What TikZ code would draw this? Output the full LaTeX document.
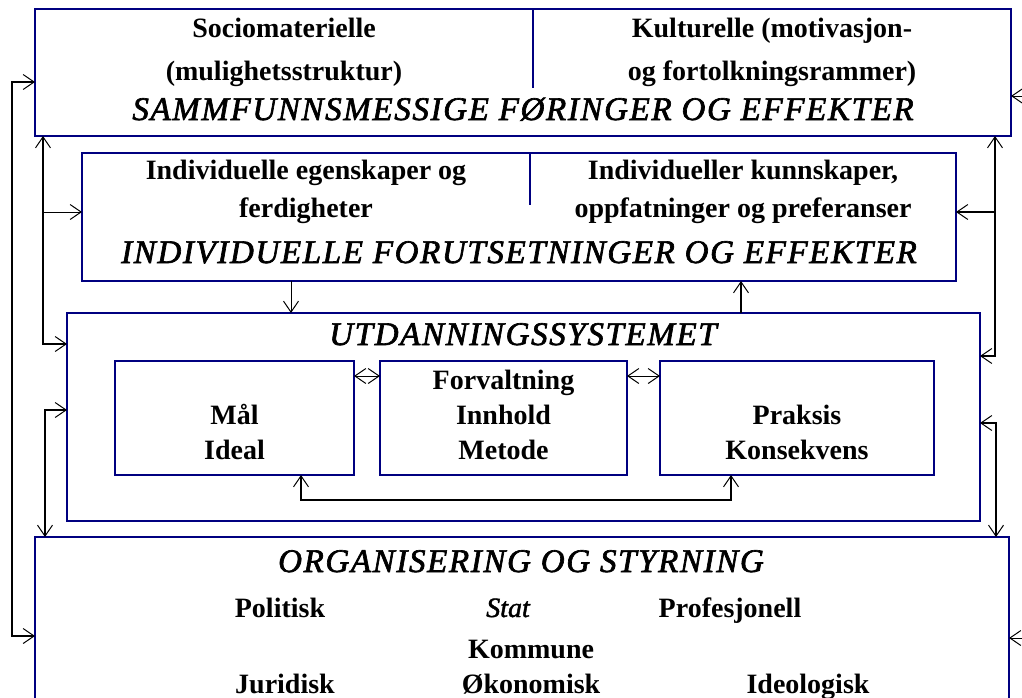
\documentclass[tikz,border=0pt]{standalone}
\usepackage{fontspec}
\setmainfont{Liberation Serif}
\newfontfamily\titlefont[LetterSpace=5,FakeBold=2]{Liberation Serif}
\newfontfamily\midfont[FakeBold=1.5]{Liberation Serif}
\usetikzlibrary{arrows.meta}
\definecolor{navy}{RGB}{0,0,128}
\tikzset{
	box/.style={draw=navy, line width=2pt, inner sep=0pt, outer sep=0pt},
	lbl/.style={font=\fontsize{28}{#1}\selectfont\bfseries, align=center, inner sep=0pt},
	lbl/.default=36,
	ttl/.style={font=\titlefont\fontsize{33}{40}\selectfont\itshape, inner sep=0pt, anchor=base},
	conn/.style={line width=1.6pt, >={Straight Barb[length=11pt,width=15pt,line width=1pt]}},
	thinconn/.style={conn, line width=1pt},
}

\begin{document}
\begin{tikzpicture}[x=1pt,y=-1pt]
	%%%%% START %%%%%
	\useasboundingbox (0,0) rectangle (1022,697);
	\clip (0,0) rectangle (1022,697);

	% boxes
	\node[box, minimum width=976pt, minimum height=127pt] (samf) at (523,72.5) {};
	\node[box, minimum width=874pt, minimum height=128pt] (indiv) at (519,217) {};
	\node[box, minimum width=913pt, minimum height=208pt] (utd) at (523.5,417) {};
	\node[box, minimum width=239pt, minimum height=114pt] (maal) at (234.5,418) {};
	\node[box, minimum width=247pt, minimum height=114pt] (forv) at (503.5,418) {};
	\node[box, minimum width=274pt, minimum height=114pt] (praks) at (797,418) {};
	\node[box, minimum width=974pt, minimum height=220pt] (org) at (522,647) {};

	% dividers
	\draw[navy, line width=1.2pt] (533,9) -- (533,88);
	\draw[navy, line width=1.2pt] (530,153) -- (530,205);

	% texts
	\node[lbl=43] (sosio) at (284,52) {Sociomaterielle\\(mulighetsstruktur)};
	\node[lbl=43] (kult) at (772,52) {Kulturelle (motivasjon-\\og fortolkningsrammer)};
	\node[ttl] (samft) at (523,120) {SAMMFUNNSMESSIGE FØRINGER OG EFFEKTER};

	\node[lbl=38] (egen) at (306,192) {Individuelle egenskaper og\\ferdigheter};
	\node[lbl=38] (kunn) at (743,192) {Individueller kunnskaper,\\oppfatninger og preferanser};
	\node[ttl] (indivt) at (519,263) {INDIVIDUELLE FORUTSETNINGER OG EFFEKTER};

	\node[ttl] (utdt) at (523,345) {UTDANNINGSSYSTEMET};
	\node[lbl=35] (maalt) at (234.5,432) {Mål\\Ideal};
	\node[lbl=35] (forvt) at (503.5,415) {Forvaltning\\Innhold\\Metode};
	\node[lbl=35] (prakst) at (797,432) {Praksis\\Konsekvens};

	\node[ttl] (orgt) at (521,572) {ORGANISERING OG STYRNING};
	\node[lbl, anchor=base] (pol) at (280,617) {Politisk};
	\node[lbl, anchor=base] (stat) at (508,617) {\midfont\mdseries\itshape Stat};
	\node[lbl, anchor=base] (prof) at (730,617) {Profesjonell};
	\node[lbl, anchor=base] (komm) at (531,658) {Kommune};
	\node[lbl, anchor=base] (jur) at (285,693) {Juridisk};
	\node[lbl, anchor=base] (oko) at (531,693) {Økonomisk};
	\node[lbl, anchor=base] (ideo) at (808,693) {Ideologisk};

	% rails
	\coordinate (lo1) at (12,82);
	\coordinate (lo2) at (12,636);
	\coordinate (li1) at (43,344);
	\coordinate (li2) at (43,212);
	\coordinate (lj1) at (45,410);
	\coordinate (ro1) at (1022,96);
	\coordinate (ro2) at (1022,638);
	\coordinate (ri1) at (995,356);
	\coordinate (ri2) at (995,212);
	\coordinate (rj1) at (996,423);
	\coordinate (m1) at (291,0);
	\coordinate (m2) at (741,0);
	\coordinate (m3) at (0,376);
	\coordinate (m4) at (301,500);
	\coordinate (m5) at (731,500);

	% left side
	\draw[conn,<->] (lo1 -| samf.west) -- (lo1) -- (lo2) -- (lo2 -| org.west);
	\draw[conn,<->] (samf.south -| li1) -- (li1) -- (li1 -| utd.west);
	\draw[thinconn,->] (li2) -- (li2 -| indiv.west);
	\draw[conn,<->] (lj1 -| utd.west) -- (lj1) -- (lj1 |- org.north);

	% right side
	\draw[thinconn,->] (ro1) -- (ro1 -| samf.east);
	\draw[thinconn,->] (ro2) -- (ro2 -| org.east);
	\draw[conn,<->] (samf.south -| ri1) -- (ri1) -- (ri1 -| utd.east);
	\draw[conn,->] (ri2) -- (ri2 -| indiv.east);
	\draw[conn,<->] (rj1 -| utd.east) -- (rj1) -- (rj1 |- org.north);

	% middle
	\draw[thinconn,->] (indiv.south -| m1) -- (utd.north -| m1);
	\draw[conn,->] (utd.north -| m2) -- (indiv.south -| m2);
	\draw[thinconn,<->] (maal.east |- m3) -- (forv.west |- m3);
	\draw[thinconn,<->] (forv.east |- m3) -- (praks.west |- m3);
	\draw[conn,<->] (maal.south -| m4) -- (m4) -- (m5) -- (praks.south -| m5);
	%%%%% END %%%%%
\end{tikzpicture}
\end{document}
